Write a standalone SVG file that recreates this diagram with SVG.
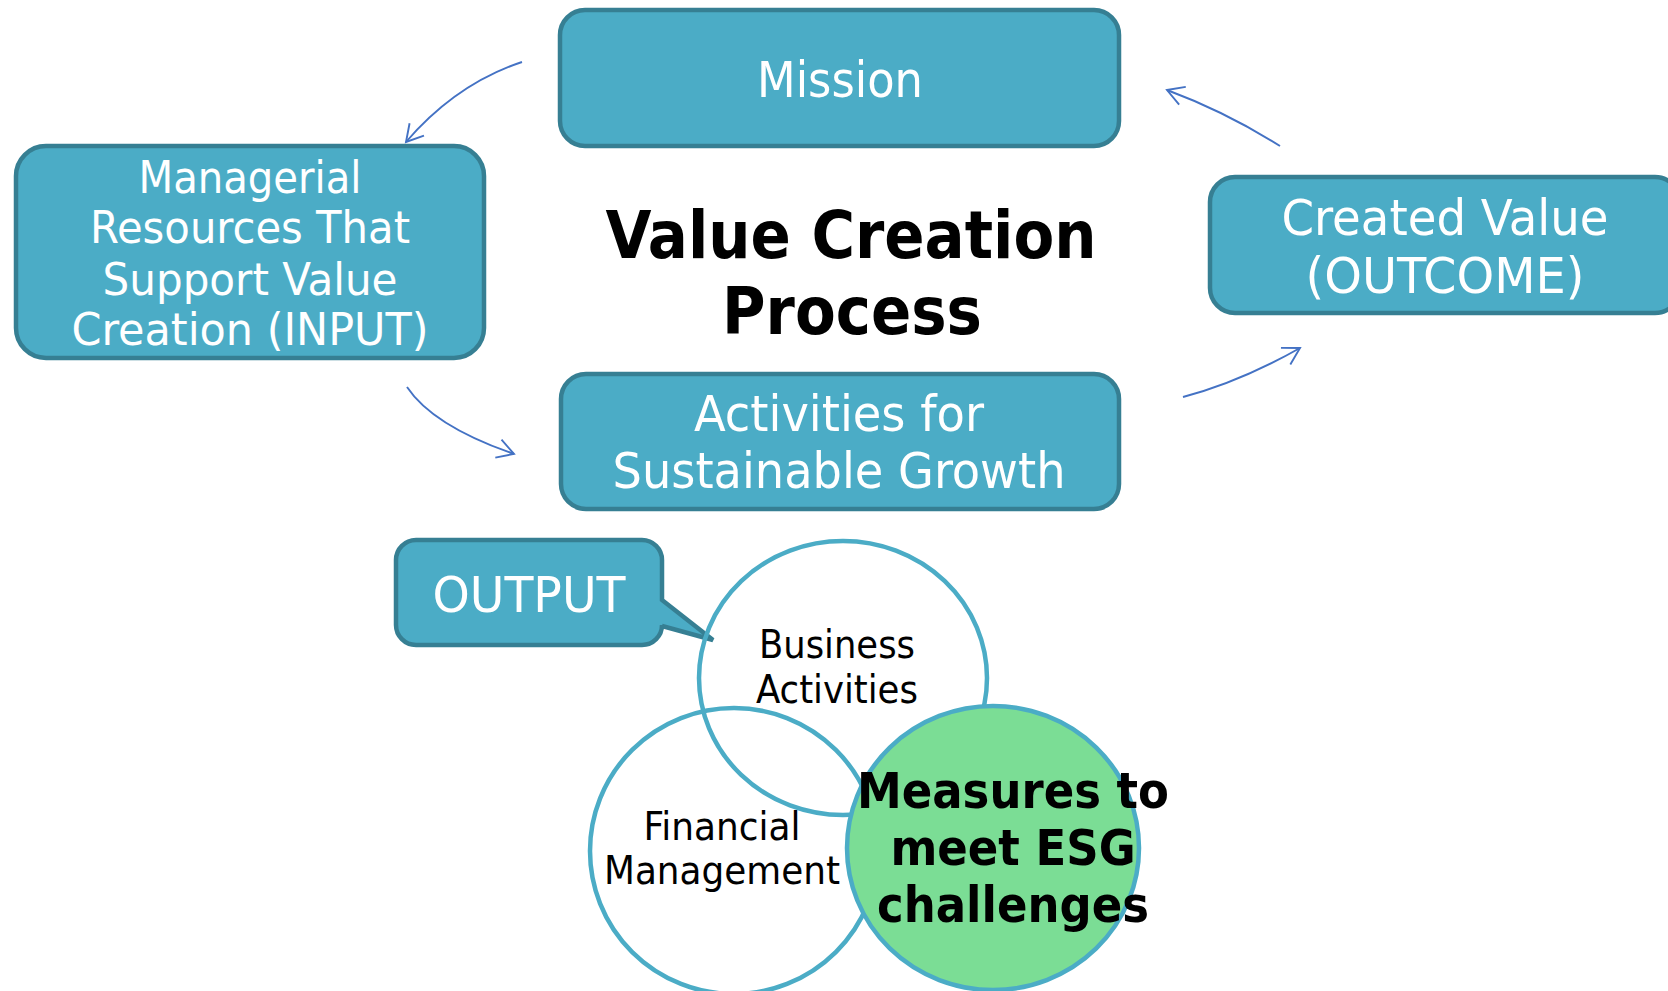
<svg xmlns="http://www.w3.org/2000/svg" width="1668" height="991" viewBox="0 0 1668 991">
  <style>
    .box { fill: #4BACC6; stroke: #367F93; stroke-width: 4.5; }
    .venn { fill: none; stroke: #4BACC6; stroke-width: 4.5; }
    .esg { fill: #7BDD95; stroke: #4BACC6; stroke-width: 4.5; }
    .lbl { font-family: 'DejaVu Sans Condensed', 'DejaVu Sans', sans-serif; font-stretch: condensed; text-anchor: middle; }
    .w { fill: #FFFFFF; }
    .k { fill: #000000; }
    .b { font-weight: bold; }
    .link { fill: none; stroke: #4472C4; stroke-width: 1.9; marker-end: url(#open-arrow); }
  </style>
  <defs>
    <marker id="open-arrow" markerUnits="userSpaceOnUse" markerWidth="40" markerHeight="40" refX="0" refY="0" viewBox="-20 -20 40 40" orient="auto" overflow="visible">
      <path d="M-16.5,-9.5 L0,0 L-16.5,9.5" fill="none" stroke="#4472C4" stroke-width="1.9"/>
    </marker>
  </defs>
  <rect width="1668" height="991" fill="#FFFFFF"/>

  <!-- cycle connectors -->
  <g id="connectors">
    <path class="link" d="M522,62 Q456,84 406,142"/>
    <path class="link" d="M407,387 Q433,426 514,454"/>
    <path class="link" d="M1183,397 Q1240,382 1300,348"/>
    <path class="link" d="M1280,146 Q1226,112 1167,90"/>
  </g>

  <g id="mission">
    <rect class="box" x="560" y="10" width="559" height="136" rx="25"/>
    <text class="lbl w" x="840" y="97" font-size="49" textLength="166" lengthAdjust="spacingAndGlyphs">Mission</text>
  </g>

  <g id="title">
    <text class="lbl k b" x="851" y="258" font-size="66">Value Creation</text>
    <text class="lbl k b" x="852" y="334" font-size="66">Process</text>
  </g>

  <g id="input">
    <rect class="box" x="16" y="146" width="468" height="212" rx="30"/>
    <text class="lbl w" x="250" y="193" font-size="45" textLength="223" lengthAdjust="spacingAndGlyphs">Managerial</text>
    <text class="lbl w" x="250" y="243" font-size="45" textLength="320" lengthAdjust="spacingAndGlyphs">Resources That</text>
    <text class="lbl w" x="250" y="295" font-size="45" textLength="295" lengthAdjust="spacingAndGlyphs">Support Value</text>
    <text class="lbl w" x="250" y="345" font-size="45" textLength="357" lengthAdjust="spacingAndGlyphs">Creation (INPUT)</text>
  </g>

  <g id="outcome">
    <rect class="box" x="1210" y="177" width="470" height="136" rx="25"/>
    <text class="lbl w" x="1445" y="235" font-size="50" textLength="327" lengthAdjust="spacingAndGlyphs">Created Value</text>
    <text class="lbl w" x="1445" y="293" font-size="50" textLength="279" lengthAdjust="spacingAndGlyphs">(OUTCOME)</text>
  </g>

  <g id="activities">
    <rect class="box" x="561" y="374" width="558" height="135" rx="25"/>
    <text class="lbl w" x="839" y="431" font-size="50" textLength="290" lengthAdjust="spacingAndGlyphs">Activities for</text>
    <text class="lbl w" x="839" y="488" font-size="50" textLength="453" lengthAdjust="spacingAndGlyphs">Sustainable Growth</text>
  </g>

  <g id="output">
    <path class="box" d="M416,540 H642 A20,20 0 0 1 662,560 V600 L713,640 L662,626 V625 A20,20 0 0 1 642,645 H416 A20,20 0 0 1 396,625 V560 A20,20 0 0 1 416,540 Z"/>
    <text class="lbl w" x="529" y="612" font-size="50" textLength="193" lengthAdjust="spacingAndGlyphs">OUTPUT</text>
  </g>

  <g id="business-activities">
    <ellipse class="venn" cx="843" cy="678" rx="144" ry="137"/>
    <text class="lbl k" x="837" y="658" font-size="39" textLength="156" lengthAdjust="spacingAndGlyphs">Business</text>
    <text class="lbl k" x="837" y="703" font-size="39" textLength="162" lengthAdjust="spacingAndGlyphs">Activities</text>
  </g>

  <g id="financial-management">
    <ellipse class="venn" cx="734" cy="851" rx="144" ry="143"/>
    <text class="lbl k" x="722" y="840" font-size="39" textLength="157" lengthAdjust="spacingAndGlyphs">Financial</text>
    <text class="lbl k" x="722" y="884" font-size="39" textLength="236" lengthAdjust="spacingAndGlyphs">Management</text>
  </g>

  <g id="esg-measures">
    <ellipse class="esg" cx="993" cy="848" rx="146" ry="142"/>
    <text class="lbl k b" x="1013" y="808" font-size="50">Measures to</text>
    <text class="lbl k b" x="1013" y="865" font-size="50">meet ESG</text>
    <text class="lbl k b" x="1013" y="922" font-size="50">challenges</text>
  </g>
</svg>
